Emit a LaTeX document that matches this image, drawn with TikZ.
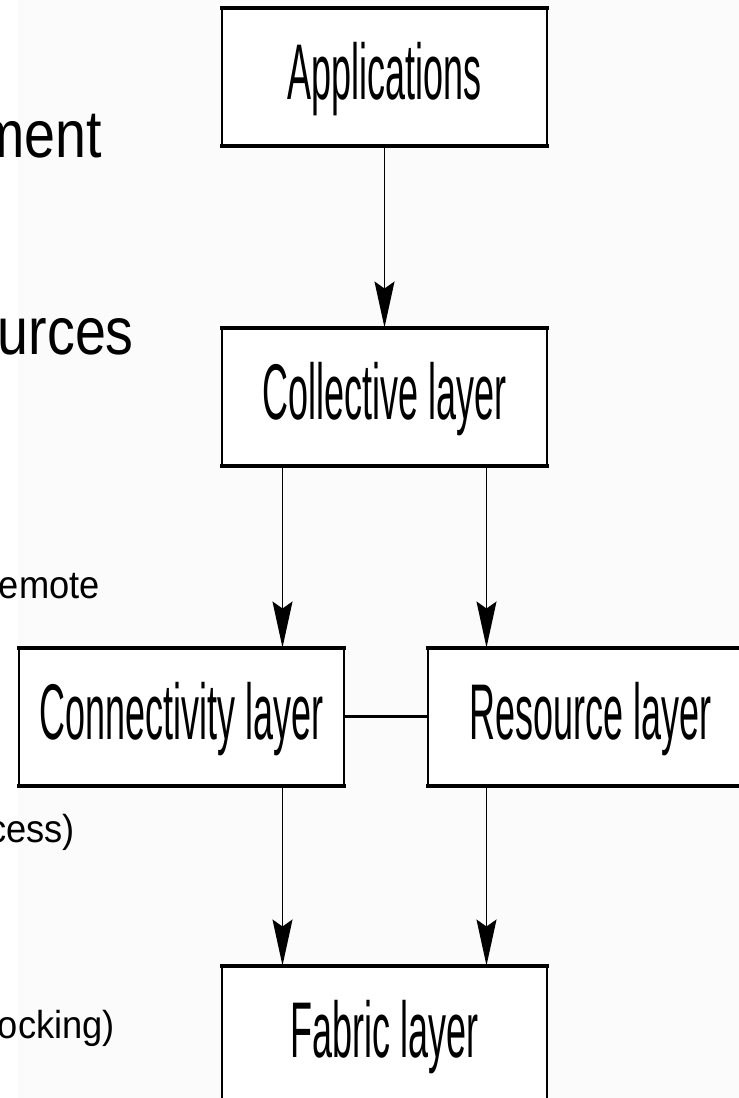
\documentclass[tikz,border=0pt]{standalone}
\usepackage{fontspec}
\usetikzlibrary{arrows.meta,positioning}
\newfontfamily\layerfont[FakeStretch=0.455]{Liberation Sans}
\newfontfamily\bigfont[FakeStretch=0.83]{Liberation Sans}
\newfontfamily\smallfont[FakeStretch=0.93]{Liberation Sans}
\definecolor{slidebg}{RGB}{251,251,251}

\begin{document}
\begin{tikzpicture}[x=1pt,y=-1pt,
  layerbox/.style={draw,fill=white,line width=2pt,minimum width=325pt,minimum height=136pt,
    inner sep=0pt,text height=57pt,text depth=11pt,font=\layerfont\fontsize{79}{80}\selectfont},
  edgeline/.style={line width=4pt,shorten <=-1pt,shorten >=-1pt},
  flowarrow/.style={line width=1.4pt,-{Stealth[length=46pt,width=20pt,inset=7pt]}},
  peerline/.style={line width=3.5pt},
  bigtext/.style={inner sep=0pt,anchor=base east,font=\bigfont\fontsize{67}{70}\selectfont},
  smalltext/.style={inner sep=0pt,anchor=base east,font=\smallfont\fontsize{39}{42}\selectfont}]
\useasboundingbox (0,0) rectangle (739,1098);
\fill[slidebg] (18,0) rectangle (739,1098);
% slide text, cut off at the left edge
\node[bigtext] (t1) at (102,157) {ment};
\node[bigtext] (t2) at (134,354) {urces};
\node[smalltext] (t3) at (100,598) {emote};
\node[smalltext] (t4) at (75,842) {cess)};
\node[smalltext] (t5) at (115,1038) {ocking)};
% layers
\node[layerbox] (app) at (384.5,76.5) {Applications};
\node[layerbox,below=182pt of app] (coll) {Collective layer};
\node[layerbox,below=182pt of coll,xshift=-203pt] (conn) {Connectivity layer};
\node[layerbox,right=82pt of conn] (res) {Resource layer};
\node[layerbox,below=180pt of conn,xshift=203pt] (fab) {Fabric layer};
\foreach \n in {app,coll,conn,res,fab}{
  \draw[edgeline] (\n.north west) -- (\n.north east);
  \draw[edgeline] (\n.south west) -- (\n.south east);}
\draw[flowarrow] (app) -- (coll);
\draw[flowarrow] ([xshift=-102pt]coll.south) -- ([xshift=-102pt]coll.south |- conn.north);
\draw[flowarrow] ([xshift=102pt]coll.south) -- ([xshift=102pt]coll.south |- res.north);
\draw[flowarrow] ([xshift=-102pt]fab.north |- conn.south) -- ([xshift=-102pt]fab.north);
\draw[flowarrow] ([xshift=102pt]fab.north |- res.south) -- ([xshift=102pt]fab.north);
\draw[peerline] (conn) -- (res);
\end{tikzpicture}
\end{document}
